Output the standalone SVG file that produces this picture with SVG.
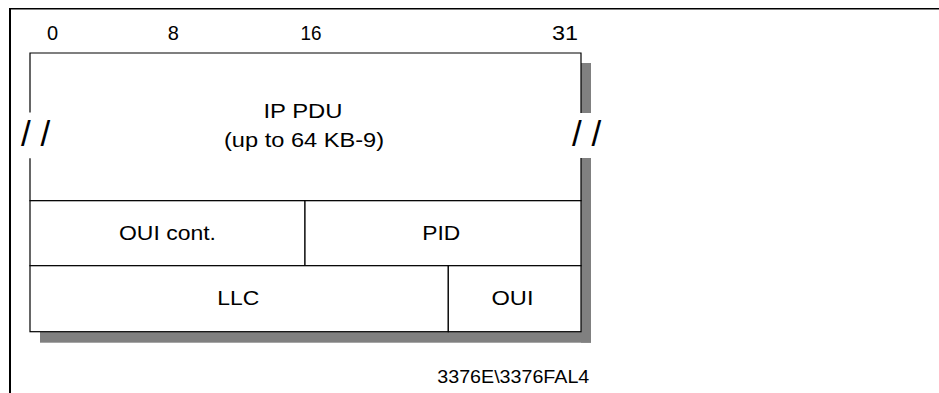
<svg xmlns="http://www.w3.org/2000/svg" width="939" height="393" viewBox="0 0 939 393">
<style>
.t{font-family:"Liberation Sans",Arial,sans-serif;fill:#000;text-anchor:middle}
.bit{font-size:20px}
.lbl{font-size:21px}
.ftr{font-size:17.5px}
.sl{font-family:"Liberation Sans",Arial,sans-serif;font-size:35px;fill:#000}
.ln{stroke:#000;stroke-width:1.2;fill:none}
.cell{fill:#fff;stroke:#000;stroke-width:1.2}
.shadow{fill:#808080}
</style>
<rect width="939" height="393" fill="#fff"/>
<g id="frame">
<line x1="9" y1="8.7" x2="939" y2="8.7" stroke="#000" stroke-width="1.5"/>
<line x1="10" y1="8" x2="10" y2="393" stroke="#000" stroke-width="2"/>
</g>
<g id="bit-numbers">
<text class="t bit" x="52.5" y="40">0</text>
<text class="t bit" x="173.3" y="40">8</text>
<text class="t bit" x="311" y="40" textLength="21" lengthAdjust="spacingAndGlyphs">16</text>
<text class="t bit" x="565" y="40" textLength="26" lengthAdjust="spacingAndGlyphs">31</text>
</g>
<g id="shadow">
<rect class="shadow" x="581" y="63" width="10" height="50"/>
<rect class="shadow" x="581" y="158" width="10" height="184.7"/>
<rect class="shadow" x="40" y="331.7" width="551" height="11"/>
</g>
<g id="ip-pdu">
<rect x="30" y="53" width="551" height="147.7" fill="#fff"/>
<path class="ln" d="M30,112.5 V53 H581 V113 M30,158.3 V200.7 H581 V158"/>
<text class="t lbl" x="303" y="118" textLength="79" lengthAdjust="spacingAndGlyphs">IP PDU</text>
<text class="t lbl" x="304" y="147" textLength="160" lengthAdjust="spacingAndGlyphs">(up to 64 KB-9)</text>
<text class="sl" x="21" y="146">/ /</text>
<text class="sl" x="572" y="146">/ /</text>
</g>
<g id="oui-cont">
<rect class="cell" x="30" y="200.7" width="275" height="65"/>
<text class="t lbl" x="167.5" y="240" textLength="97" lengthAdjust="spacingAndGlyphs">OUI cont.</text>
</g>
<g id="pid">
<rect class="cell" x="305" y="200.7" width="276" height="65"/>
<text class="t lbl" x="441.3" y="240" textLength="38" lengthAdjust="spacingAndGlyphs">PID</text>
</g>
<g id="llc">
<rect class="cell" x="30" y="265.7" width="418.3" height="66"/>
<text class="t lbl" x="238.3" y="305" textLength="42" lengthAdjust="spacingAndGlyphs">LLC</text>
</g>
<g id="oui">
<rect class="cell" x="448.3" y="265.7" width="132.7" height="66"/>
<text class="t lbl" x="512.5" y="305" textLength="42" lengthAdjust="spacingAndGlyphs">OUI</text>
</g>
<g id="connectors"/>
<g id="footer">
<text class="t ftr" x="513.3" y="382.7" textLength="152" lengthAdjust="spacingAndGlyphs">3376E\3376FAL4</text>
</g>
</svg>
